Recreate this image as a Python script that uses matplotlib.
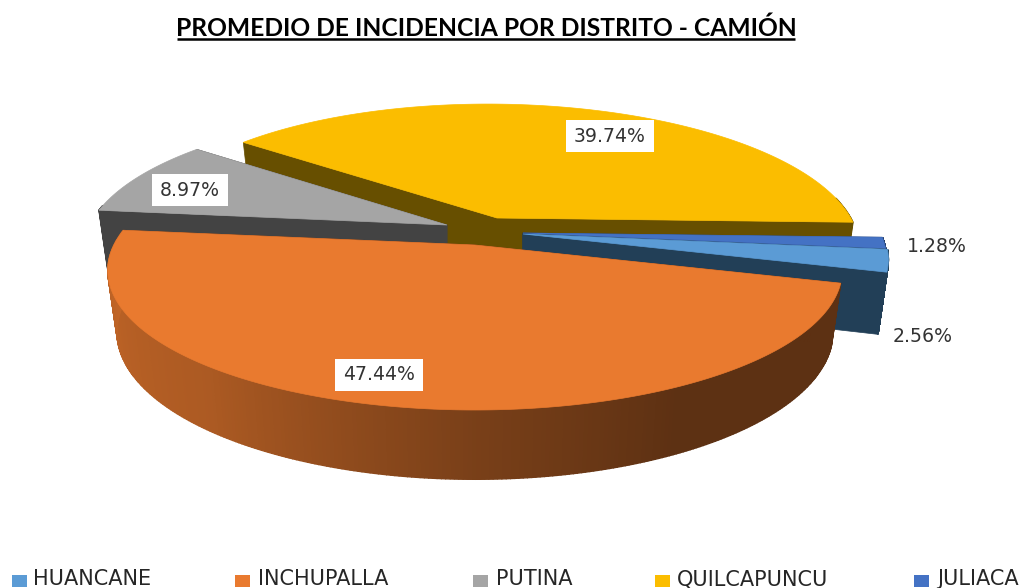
import numpy as np
import matplotlib
matplotlib.use("Agg")
import matplotlib.pyplot as plt
from matplotlib.colors import to_rgb
from matplotlib.patches import Polygon, Rectangle

# datos
distritos = ["HUANCANE", "INCHUPALLA", "PUTINA", "QUILCAPUNCU", "JULIACA"]
valores = [2.56, 47.44, 8.97, 39.74, 1.28]

# estilo
colores = ["#5B9BD5", "#E97A2F", "#A5A5A5", "#FBBD00", "#4472C4"]
colores_corte = ["#223F57", "#5E2E12", "#434343", "#674F00", "#1F3864"]
apices = [(523, 234), (475, 245), (447, 225), (497, 218), (523, 233)]
escala_x = [0.995, 1.0, 0.99, 0.98, 0.99]
sesgo_x = [0, 0, 0, -10.7, 0]
orden_dibujo = [3, 2, 4, 0, 1]
pos_etiquetas = [(923, 336), (379, 375), (190, 190), (610, 136), (937, 246)]
con_caja = [False, True, True, True, False]
pos_marca = [12, 235, 473, 655, 914]
pos_nombre = [33, 258, 496, 677, 937]
ANG_INICIO = -6.4
RX, RY, P = 361, 134.8, 0.183
ALTO, ESCALA = 60, 0.975


def borde(i, t_grados, abajo=False):
    ap = apices[i]
    t = np.radians(t_grados)
    w = 1 + P * np.sin(t)
    dx = (RX * escala_x[i] * np.cos(t) + sesgo_x[i] * np.sin(t)) / w
    dy = -RY * np.sin(t) / w
    if abajo:
        return ap[0] + ESCALA * dx, ap[1] + ESCALA * dy + ALTO / w
    return ap[0] + dx, ap[1] + dy


def sombra_pared(t):
    # t va de -190 a -16, mas claro a la izquierda
    return np.interp(t, [-190, -130, -90, -62, -16], [0.85, 0.74, 0.52, 0.40, 0.40])


fig = plt.figure(figsize=(10.24, 5.88), dpi=100)
ax = fig.add_axes([0, 0, 1, 1])
ax.set_xlim(0, 1024)
ax.set_ylim(588, 0)
ax.axis("off")

total = sum(valores)
fin = ANG_INICIO - np.cumsum(valores) / total * 360
ini = np.r_[ANG_INICIO, fin[:-1]]

for i in orden_dibujo:
    ap = apices[i]
    base = np.array(to_rgb(colores[i]))
    ts = np.linspace(ini[i], fin[i], 300)
    ap_abajo = (ap[0], ap[1] + ALTO)

    # caras de corte
    for t in (ini[i], fin[i]):
        ax.add_patch(Polygon([ap, borde(i, t), borde(i, t, True), ap_abajo],
                             fc=colores_corte[i], ec=colores_corte[i], lw=0.5))

    # pared exterior con degradado (solo la parte que mira al frente)
    for t1, t2 in zip(ts[:-1], ts[1:]):
        tm = (t1 + t2) / 2
        if np.sin(np.radians(tm)) > 0.15:
            continue
        c = base * sombra_pared(tm) if i == 1 else to_rgb(colores_corte[i])
        ax.add_patch(Polygon([borde(i, t1), borde(i, t2), borde(i, t2, True), borde(i, t1, True)],
                             fc=c, ec=c, lw=1))

    # cara superior
    puntos = [ap] + [borde(i, t) for t in ts]
    ax.add_patch(Polygon(puntos, fc=colores[i], ec=colores[i], lw=0.5))

# etiquetas
fig.canvas.draw()
rend = fig.canvas.get_renderer()
for v, (x, y), caja in zip(valores, pos_etiquetas, con_caja):
    txt = ax.text(x, y, f"{v:.2f}%", ha="center", va="center", fontsize=13.6,
                  family="DejaVu Sans", color="#333333", zorder=5)
    if caja:
        ancho = txt.get_window_extent(rend).width + 16
        ax.add_patch(Rectangle((x - ancho / 2, y - 16), ancho, 32, fc="white", ec="none", zorder=4))

# titulo
ax.text(486, 28, "PROMEDIO DE INCIDENCIA POR DISTRITO - CAMIÓN", ha="center", va="center",
        fontsize=17.7, fontweight="bold", family="Lato", color="black")
ax.plot([177, 795], [38.5, 38.5], color="black", lw=1.8, solid_capstyle="butt")

# leyenda
for nombre, color, xm, xn in zip(distritos, colores, pos_marca, pos_nombre):
    ax.add_patch(Rectangle((xm, 575), 15, 12, fc=color, ec="none"))
    ax.text(xn, 585.3, nombre, ha="left", va="baseline", fontsize=15,
            family="DejaVu Sans", color="#262626")

fig.savefig("out.png", dpi=100)
